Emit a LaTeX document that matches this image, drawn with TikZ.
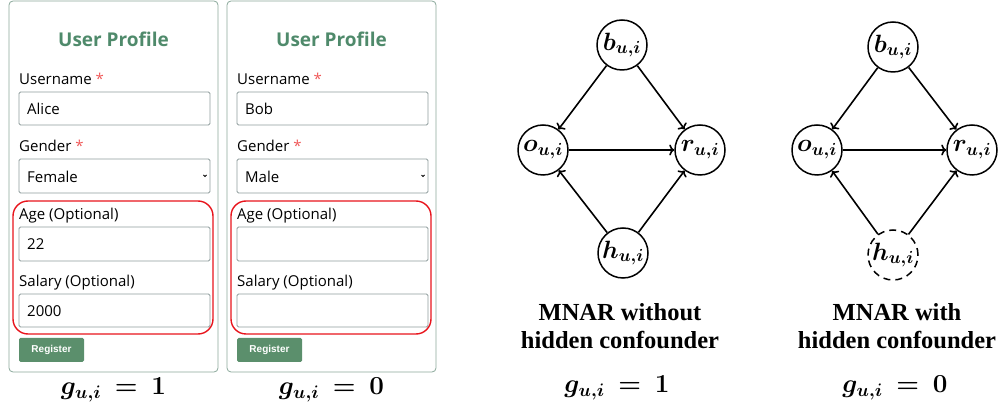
\RequirePackage{fix-cm}
\documentclass[tikz,border=0pt]{standalone}
\usepackage{fontspec}
\usepackage{bm}
\setmainfont{Liberation Serif}
\newfontfamily\formfont{Open Sans}
\newfontfamily\btnfont{Liberation Sans}
\usetikzlibrary{positioning,arrows.meta}
\definecolor{formgreen}{HTML}{4F8A6B}
\definecolor{btngreen}{HTML}{5B8F6C}
\definecolor{cardline}{HTML}{8AA89A}
\definecolor{boxline}{HTML}{8E9C9C}
\definecolor{starred}{HTML}{F05A5A}
\definecolor{optred}{HTML}{E8141C}
\tikzset{
  card/.style={draw=cardline,line width=0.8pt,rounded corners=4pt},
  inbox/.style={draw=boxline,line width=0.9pt,fill=white,rounded corners=1.5pt},
  flabel/.style={anchor=base west,inner sep=0pt,font=\formfont\fontsize{15}{17}\selectfont},
  ftitle/.style={anchor=base,inner sep=0pt,text=formgreen,font=\formfont\bfseries\fontsize{19}{22}\selectfont},
  optbox/.style={draw=optred,line width=1.4pt,rounded corners=15pt},
  regbtn/.style={fill=btngreen,rounded corners=1.5pt,minimum width=65pt,minimum height=24pt,
    inner sep=0pt,text=white,font=\btnfont\bfseries\fontsize{10}{12}\selectfont},
  var/.style={circle,draw,line width=1.5pt,minimum size=50pt,inner sep=0pt,font=\fontsize{25}{27}\selectfont},
  hidden/.style={var,dashed,dash pattern=on 7pt off 5pt},
  edge/.style={-{To[length=5pt,width=11pt]},line width=1.6pt},
  caption/.style={align=center,font=\bfseries\fontsize{24.5}{28}\selectfont},
  gval/.style={font=\fontsize{26}{28}\selectfont}
}
\begin{document}
\begin{tikzpicture}[x=1pt,y=-1pt]
\useasboundingbox (0,0) rectangle (1002,411);

% the two registration forms
\foreach \dx/\who/\user/\gender/\age/\sal/\g in {0/alice/Alice/Female/22/2000/1, 218/bob/Bob/Male/{}/{}/0} {
  \begin{scope}[xshift=\dx]
    \draw[card] (9,1) rectangle (218,372);
    \node[ftitle] (title-\who) at (113.5,47) {User Profile};
    \node[flabel] (name-\who) at (19,85) {Username \textcolor{starred}{*}};
    \draw[inbox] (19,92) rectangle (210,125);
    \node[flabel] (nameval-\who) at (27,115) {\user};
    \node[flabel] (gender-\who) at (19,152) {Gender \textcolor{starred}{*}};
    \draw[inbox] (19,159) rectangle (210,193);
    \node[flabel] (genderval-\who) at (27,183) {\gender};
    \draw[line width=0.8pt] (203.5,175) -- (205,176.5) -- (206.5,175);
    % optional fields
    \draw[optbox] (13,201) rectangle (213,334);
    \node[flabel] (age-\who) at (19,220) {Age (Optional)};
    \draw[inbox] (19,227) rectangle (210,261);
    \node[flabel] (ageval-\who) at (27,250) {\age};
    \node[flabel] (sal-\who) at (19,287) {Salary (Optional)};
    \draw[inbox] (19,294) rectangle (210,327);
    \node[flabel] (salval-\who) at (27,317) {\sal};
    \node[regbtn] (reg-\who) at (51.5,350) {Register};
    \node[gval] (g-\who) at (113.5,390) {$\bm{g_{u,i}\ =\ \g}$};
  \end{scope}
}

% MNAR without hidden confounder
\node[var] (b1) at (622,45) {$\bm{b_{u,i}}$};
\node[var] (o1) at (543,150) {$\bm{o_{u,i}}$};
\node[var] (r1) at (700,150) {$\bm{r_{u,i}}$};
\node[var] (h1) at (623,253) {$\bm{h_{u,i}}$};
\draw[edge] (b1) -- (o1);
\draw[edge] (b1) -- (r1);
\draw[edge] (o1) -- (r1);
\draw[edge] (h1) -- (o1);
\draw[edge] (h1) -- (r1);
\node[caption] (cap1) at (620,326) {MNAR without\\hidden confounder};
\node[gval] (g1) at (617,388) {$\bm{g_{u,i}\ =\ 1}$};

% MNAR with hidden confounder
\node[var] (b2) at (893,47) {$\bm{b_{u,i}}$};
\node[var] (o2) at (817,150) {$\bm{o_{u,i}}$};
\node[var] (r2) at (972,150) {$\bm{r_{u,i}}$};
\node[hidden] (h2) at (893,255) {$\bm{h_{u,i}}$};
\draw[edge] (b2) -- (o2);
\draw[edge] (b2) -- (r2);
\draw[edge] (o2) -- (r2);
\draw[edge] (h2) -- (o2);
\draw[edge] (h2) -- (r2);
\node[caption] (cap2) at (897,326) {MNAR with\\hidden confounder};
\node[gval] (g2) at (895,388) {$\bm{g_{u,i}\ =\ 0}$};
\end{tikzpicture}
\end{document}
